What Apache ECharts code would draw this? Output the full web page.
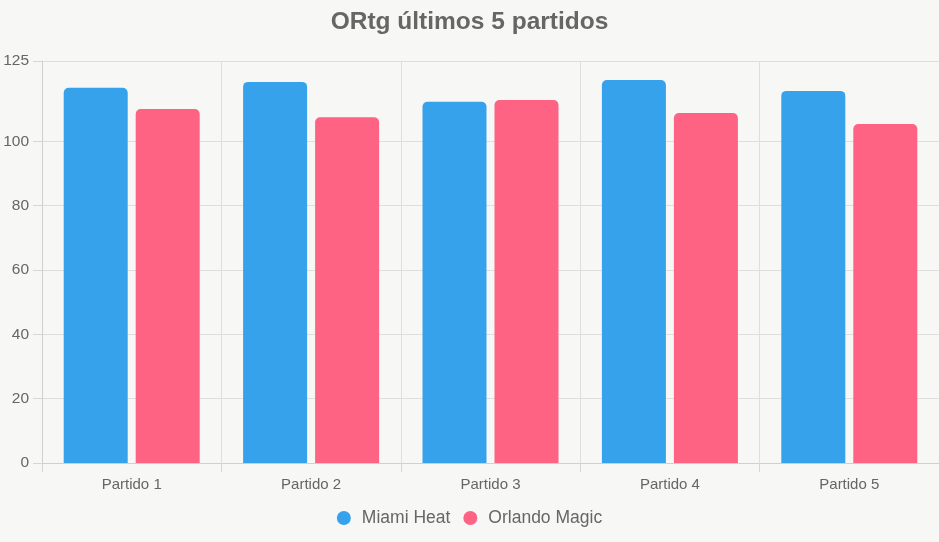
<!DOCTYPE html>
<html>
<head>
<meta charset="utf-8">
<script src="https://cdn.jsdelivr.net/npm/echarts@6/dist/echarts.min.js"></script>
<style>
html,body{margin:0;padding:0;background:#f7f7f5;}
#chart{width:939px;height:542px;}
</style>
</head>
<body>
<div id="chart"></div>
<script>
const categories = ['Partido 1','Partido 2','Partido 3','Partido 4','Partido 5'];
const miamiHeat = [116.7, 118.5, 112.3, 119.1, 115.7];
const orlandoMagic = [110.1, 107.5, 112.9, 108.8, 105.4];
const yTicks = [0, 20, 40, 60, 80, 100, 125];
const seriesNames = ['Miami Heat', 'Orlando Magic'];
const titleText = 'ORtg últimos 5 partidos';

const font = '"Liberation Sans", Arial, Helvetica, sans-serif';
const chart = echarts.init(document.getElementById('chart'), null, {renderer:'canvas'});
chart.setOption({
  backgroundColor: '#f7f7f5',
  animation: false,
  title: {
    text: titleText, left: 'center', top: 5,
    textStyle: {fontFamily: font, fontSize: 24.5, fontWeight: 'bold', color: '#666'}
  },
  legend: {
    data: seriesNames, bottom: 10, left: 'center', icon: 'circle',
    itemWidth: 14, itemHeight: 14, itemGap: 13,
    textStyle: {fontFamily: font, fontSize: 17.5, color: '#666', padding: [0,0,0,6]}
  },
  grid: {left: 42, right: 0, top: 61, bottom: 79, containLabel: false},
  xAxis: {
    type: 'category', data: categories, boundaryGap: true,
    axisLine: {show: true, lineStyle: {color: '#cfcfcf'}},
    axisTick: {show: true, length: 9, alignWithLabel: false, lineStyle: {color: '#d6d6d6'}},
    splitLine: {show: true, lineStyle: {color: '#dedede'}},
    axisLabel: {fontFamily: font, fontSize: 15, color: '#666', margin: 14}
  },
  yAxis: {
    type: 'value', min: 0, max: 125,
    axisLine: {show: true, lineStyle: {color: '#cfcfcf'}},
    axisTick: {show: true, length: 9, customValues: yTicks, lineStyle: {color: '#d6d6d6'}},
    splitLine: {show: true, lineStyle: {color: '#dedede'}},
    axisLabel: {fontFamily: font, fontSize: 15.5, color: '#666', margin: 13, customValues: yTicks}
  },
  series: [
    {name: seriesNames[0], type: 'bar', data: miamiHeat, barWidth: 64, barGap: '12.5%',
     itemStyle: {color: '#36A2EB', borderRadius: [5,5,0,0]}},
    {name: seriesNames[1], type: 'bar', data: orlandoMagic, barWidth: 64, barGap: '12.5%',
     itemStyle: {color: '#FF6384', borderRadius: [5,5,0,0]}}
  ]
});
</script>
</body>
</html>
